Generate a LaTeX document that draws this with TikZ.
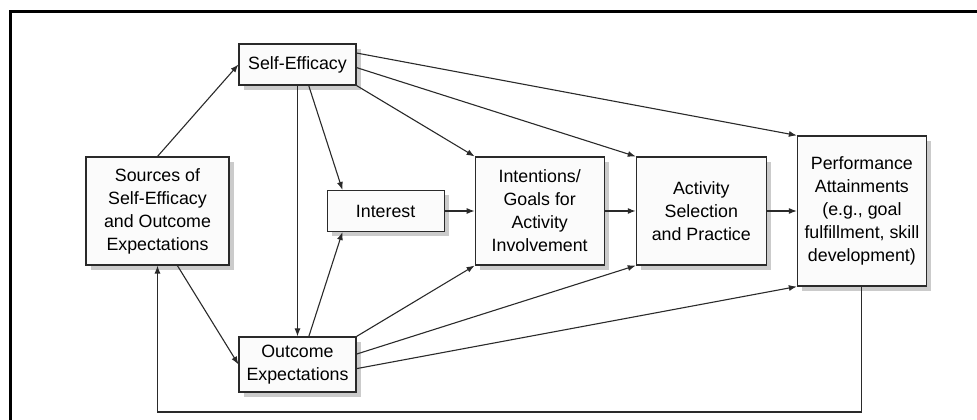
\documentclass[tikz,border=0pt]{standalone}
\usepackage{fontspec}
\setmainfont{Liberation Sans}
\usetikzlibrary{positioning}
\usetikzlibrary{arrows.meta}
\usetikzlibrary{shadows}

\definecolor{linegray}{HTML}{2A2A2A}
\definecolor{boxfill}{HTML}{FBFBFB}
\definecolor{shadowgray}{HTML}{CBCBCB}

\begin{document}
\begin{tikzpicture}[ x                 = 1pt
                   , y                 = 1pt
                   , font              = \fontsize{17.8}{23}\selectfont
                   , every node/.style = { rectangle
                                         , draw           = linegray
                                         , line width     = 1.1pt
                                         , fill           = boxfill
                                         , align          = center
                                         , inner sep      = 0pt
                                         , drop shadow    = {shadow xshift=5pt,shadow yshift=-5pt,fill=shadowgray,opacity=1}
                                         }
                   % Use latex style arrows
                   , >={Latex[width=6pt, length=8pt]}
                   , node distance = 30pt
                   ]

  %%
  %% Node types
  %%
  \tikzset{ single/.style={minimum width=117pt, minimum height=41pt}
          , double/.style={minimum width=117pt, minimum height=55pt}
          , block/.style={minimum width=130pt, minimum height=108pt}
          , tall/.style={minimum width=129pt, minimum height=150pt}
          }

  %%
  %% Arrow types
  %%
  \tikzset{ link/.style={every edge/.style={draw=linegray, line width=1.1pt, ->}}
          , feedback/.style={->, draw=linegray, line width=1.1pt}
          , frame/.style={draw=black, line width=3pt}
          }

  \useasboundingbox (0,0) rectangle (977,420);
  \clip (0,0) rectangle (977,420);

  %% Outer frame
  \draw[frame] (10,-10) -- (10,408) -- (990,408);

  %%
  %% Nodes
  %%
  \node (src)   [block, minimum width=143pt] at (157.5,209)
                {Sources of\\Self-Efficacy\\and Outcome\\Expectations};
  \node (se)    [single] at (297.5,355.5) {Self-Efficacy};
  \node (oe)    [double] at (297.5,55.5) {Outcome\\Expectations};
  \node (int)   [single, right = 97pt of src] {Interest};
  \node (goals) [block, minimum width=129pt, right = of int]
                {Intentions/\\Goals for\\Activity\\Involvement};
  \node (act)   [block, right = 31pt of goals] {Activity\\Selection\\and Practice};
  \node (perf)  [tall, right = of act]
                {Performance\\Attainments\\(e.g., goal\\fulfillment, skill\\development)};

  \coordinate (fb) at (0,8);

  %%
  %% Relationships between nodes
  %%

  %%% Sources
  \path[link] (src.north) edge (se.west);
  \path[link] (src.-70) edge (oe.west);

  %%% Self-efficacy
  \path[link] (se.south) edge (oe.north);
  \path[link] (se.-62) edge (int.154);
  \path[link] (se.south east) edge (goals.north west);
  \path[link] (se.-3) edge (act.north west);
  \path[link] (se.11) edge (perf.north west);

  %%% Outcome expectations
  \path[link] (oe.68) edge (int.-154);
  \path[link] (oe.north east) edge (goals.south west);
  \path[link] (oe.10) edge (act.south west);
  \path[link] (oe.-4) edge (perf.south west);

  %%% Main chain
  \path[link] (int) edge (goals);
  \path[link] (goals) edge (act);
  \path[link] (act) edge (perf);

  %%% Feedback loop
  \draw[feedback] (perf.south) |- (fb -| src.south) -- (src.south);

\end{tikzpicture}
\end{document}
